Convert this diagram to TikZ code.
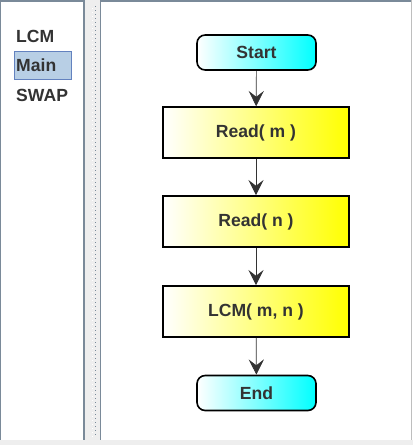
\documentclass[tikz,border=0pt]{standalone}
\usepackage{fontspec}
\setmainfont{Liberation Sans}
\usetikzlibrary{arrows.meta,positioning}
\definecolor{framegray}{HTML}{7A8A99}
\definecolor{splitgray}{HTML}{EEEEEE}
\definecolor{selfill}{HTML}{B8CFE5}
\definecolor{selline}{HTML}{6382BF}
\definecolor{txtgray}{HTML}{333333}

\begin{document}
\begin{tikzpicture}[x=0.03cm, y=-0.03cm,
    every node/.style={font=\fontsize{15}{17}\selectfont\bfseries, text=txtgray},
    term/.style={draw=black, line width=1.4pt, rounded corners=7pt,
        left color=white, right color=cyan,
        minimum width=3.57cm, minimum height=1.05cm},
    proc/.style={draw=black, line width=1.4pt,
        left color=white, right color=yellow,
        minimum width=5.58cm, minimum height=1.53cm},
    flow/.style={draw=txtgray, line width=0.6pt, -{Stealth[length=13pt, width=13pt, inset=5pt]}},
    item/.style={anchor=west, inner sep=0pt}]
                \useasboundingbox (0, 0) rectangle (413, 445);
                % Panels and splitter:
                \fill[white] (0, 0) rectangle (413, 445);
                \fill[splitgray] (0, 440) rectangle (413, 445);
                \fill[splitgray] (84, 0) rectangle (101, 440);
                \draw[framegray, line width=1.5pt] (0, 1) -- (84, 1);
                \draw[framegray, line width=1.5pt] (101, 1) -- (411, 1);
                \draw[framegray, line width=1pt] (0.5, 0) -- (0.5, 440);
                \draw[framegray, line width=1.5pt] (84, 0) -- (84, 440);
                \draw[framegray, line width=1.5pt] (100.5, 0) -- (100.5, 440);
                \draw[splitgray!80!black, line width=0.8pt] (411.5, 0) -- (411.5, 440);
                \foreach \y in {6, 10, ..., 436} {
                    \fill[framegray] (94.5, \y) rectangle (95.8, \y+1.3);
                    \fill[white] (91.5, \y+2) rectangle (92.8, \y+3.3);
                }
                % List of routines:
                \node[item](L1) at (16, 36){LCM};
                \fill[selfill, draw=selline, line width=0.8pt] (14, 51) rectangle (71, 79);
                \node[item](L2) at (16, 65){Main};
                \node[item](L3) at (16, 95){SWAP};
                % Flowchart:
                \node[term](start) at (256.5, 52.5){Start};
                \node[proc](readm) at (256, 132.5){Read( m )};
                \node[proc](readn) at (256, 221.5){Read( n )};
                \node[proc](lcm) at (256, 311.5){LCM( m, n )};
                \node[term](stop) at (256.5, 393){End};
                \draw[flow] (start) -- (readm);
                \draw[flow] (readm) -- (readn);
                \draw[flow] (readn) -- (lcm);
                \draw[flow] (lcm) -- (stop);
            \end{tikzpicture}
\end{document}
